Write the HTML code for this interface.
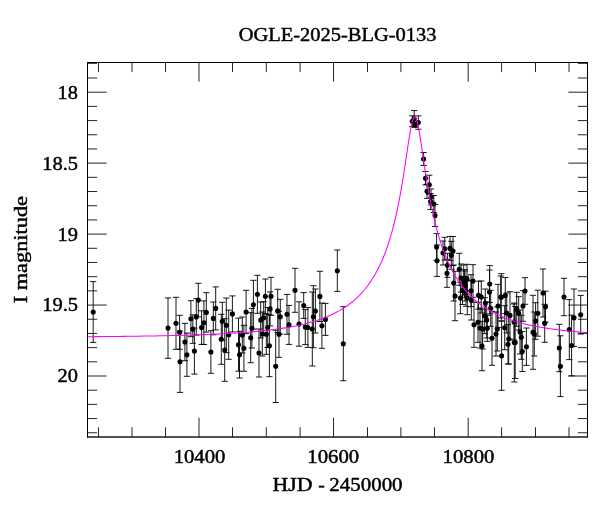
<!DOCTYPE html>
<html><head><meta charset="utf-8"><title>OGLE-2025-BLG-0133</title>
<style>
html,body{margin:0;padding:0;background:#fff;}
body{width:600px;height:512px;overflow:hidden;}
svg{display:block;}
text{font-family:"Liberation Serif",serif;font-size:19.5px;fill:#000;stroke:#000;stroke-width:0.45px;}
.fr{stroke:#000;stroke-width:1;fill:none;}
.tk{stroke:#000;stroke-width:.95;stroke-opacity:.9;fill:none;}
.eb{stroke:#000;stroke-width:1;stroke-opacity:.9;fill:none;}
.pt{fill:#000;}
.cv{stroke:#f0f;stroke-width:1.05;fill:none;stroke-linejoin:round;}
</style></head><body>
<svg width="600" height="512" viewBox="0 0 600 512">
<rect width="600" height="512" fill="#fff"/>

<path class="tk" d="M98.50 436.90v-9.6M98.50 62.50v9.6M132.00 436.90v-9.6M132.00 62.50v9.6M165.50 436.90v-9.6M165.50 62.50v9.6M199.00 436.90v-19.2M199.00 62.50v19.2M232.50 436.90v-9.6M232.50 62.50v9.6M266.30 436.90v-9.6M266.30 62.50v9.6M300.10 436.90v-9.6M300.10 62.50v9.6M333.50 436.90v-19.2M333.50 62.50v19.2M367.50 436.90v-9.6M367.50 62.50v9.6M400.90 436.90v-9.6M400.90 62.50v9.6M434.50 436.90v-9.6M434.50 62.50v9.6M468.20 436.90v-19.2M468.20 62.50v19.2M501.60 436.90v-9.6M501.60 62.50v9.6M535.50 436.90v-9.6M535.50 62.50v9.6M569.00 436.90v-9.6M569.00 62.50v9.6M87.50 63.35h9.6M587.50 63.35h-9.6M87.50 78.01h9.6M587.50 78.01h-9.6M87.50 92.20h19.2M587.50 92.20h-19.2M87.50 106.39h9.6M587.50 106.39h-9.6M87.50 120.58h9.6M587.50 120.58h-9.6M87.50 134.77h9.6M587.50 134.77h-9.6M87.50 148.96h9.6M587.50 148.96h-9.6M87.50 163.15h19.2M587.50 163.15h-19.2M87.50 177.34h9.6M587.50 177.34h-9.6M87.50 191.53h9.6M587.50 191.53h-9.6M87.50 205.72h9.6M587.50 205.72h-9.6M87.50 219.91h9.6M587.50 219.91h-9.6M87.50 234.10h19.2M587.50 234.10h-19.2M87.50 248.29h9.6M587.50 248.29h-9.6M87.50 262.48h9.6M587.50 262.48h-9.6M87.50 276.67h9.6M587.50 276.67h-9.6M87.50 290.86h9.6M587.50 290.86h-9.6M87.50 305.05h19.2M587.50 305.05h-19.2M87.50 319.24h9.6M587.50 319.24h-9.6M87.50 333.43h9.6M587.50 333.43h-9.6M87.50 347.62h9.6M587.50 347.62h-9.6M87.50 361.81h9.6M587.50 361.81h-9.6M87.50 376.00h19.2M587.50 376.00h-19.2M87.50 390.19h9.6M587.50 390.19h-9.6M87.50 404.38h9.6M587.50 404.38h-9.6M87.50 418.57h9.6M587.50 418.57h-9.6M87.50 432.76h9.6M587.50 432.76h-9.6"/>
<path class="eb" d="M93.2 281.6V342.4M90.1 281.6h6.2M90.1 342.4h6.2M168.0 297.9V358.3M164.9 297.9h6.2M164.9 358.3h6.2M176.0 297.3V349.3M172.9 297.3h6.2M172.9 349.3h6.2M179.6 315.3V349.3M176.5 315.3h6.2M176.5 349.3h6.2M180.0 331.0V392.4M176.9 331.0h6.2M176.9 392.4h6.2M184.9 323.3V360.7M181.8 323.3h6.2M181.8 360.7h6.2M186.9 333.1V376.3M183.8 333.1h6.2M183.8 376.3h6.2M190.9 300.7V336.7M187.8 300.7h6.2M187.8 336.7h6.2M192.8 314.9V343.3M189.7 314.9h6.2M189.7 343.3h6.2M194.4 328.1V374.1M191.3 328.1h6.2M191.3 374.1h6.2M196.3 298.7V335.1M193.2 298.7h6.2M193.2 335.1h6.2M198.3 283.3V316.9M195.2 283.3h6.2M195.2 316.9h6.2M201.6 310.8V344.4M198.5 310.8h6.2M198.5 344.4h6.2M203.9 300.9V344.5M200.8 300.9h6.2M200.8 344.5h6.2M206.3 292.7V332.1M203.2 292.7h6.2M203.2 332.1h6.2M210.9 330.7V373.3M207.8 330.7h6.2M207.8 373.3h6.2M213.3 302.0V334.8M210.2 302.0h6.2M210.2 334.8h6.2M215.7 286.9V329.9M212.6 286.9h6.2M212.6 329.9h6.2M221.3 314.3V364.3M218.2 314.3h6.2M218.2 364.3h6.2M222.3 302.3V340.3M219.2 302.3h6.2M219.2 340.3h6.2M224.7 318.7V381.3M221.6 318.7h6.2M221.6 381.3h6.2M226.3 298.0V352.6M223.2 298.0h6.2M223.2 352.6h6.2M228.7 310.1V359.3M225.6 310.1h6.2M225.6 359.3h6.2M232.4 295.9V331.9M229.3 295.9h6.2M229.3 331.9h6.2M238.5 318.2V371.2M235.4 318.2h6.2M235.4 371.2h6.2M239.5 331.4V378.0M236.4 331.4h6.2M236.4 378.0h6.2M242.3 317.0V353.0M239.2 317.0h6.2M239.2 353.0h6.2M243.9 325.3V371.3M240.8 325.3h6.2M240.8 371.3h6.2M246.1 290.3V333.7M243.0 290.3h6.2M243.0 333.7h6.2M250.7 312.7V362.7M247.6 312.7h6.2M247.6 362.7h6.2M251.9 308.4V348.0M248.8 308.4h6.2M248.8 348.0h6.2M253.4 280.3V329.1M250.3 280.3h6.2M250.3 329.1h6.2M257.4 275.3V313.3M254.3 275.3h6.2M254.3 313.3h6.2M259.0 329.0V377.0M255.9 329.0h6.2M255.9 377.0h6.2M260.7 302.0V338.0M257.6 302.0h6.2M257.6 338.0h6.2M262.3 312.0V356.0M259.2 312.0h6.2M259.2 356.0h6.2M263.7 301.7V333.7M260.6 301.7h6.2M260.6 333.7h6.2M265.4 279.0V313.6M262.3 279.0h6.2M262.3 313.6h6.2M266.3 314.3V354.3M263.2 314.3h6.2M263.2 354.3h6.2M267.7 307.5V347.5M264.6 307.5h6.2M264.6 347.5h6.2M269.4 314.7V376.7M266.3 314.7h6.2M266.3 376.7h6.2M270.1 291.9V325.9M267.0 291.9h6.2M267.0 325.9h6.2M271.0 277.3V315.3M267.9 277.3h6.2M267.9 315.3h6.2M275.7 330.1V402.5M272.6 330.1h6.2M272.6 402.5h6.2M277.7 289.3V332.5M274.6 289.3h6.2M274.6 332.5h6.2M279.0 311.3V357.3M275.9 311.3h6.2M275.9 357.3h6.2M280.3 299.3V334.1M277.2 299.3h6.2M277.2 334.1h6.2M287.0 294.4V334.2M283.9 294.4h6.2M283.9 334.2h6.2M289.0 305.4V344.4M285.9 305.4h6.2M285.9 344.4h6.2M295.0 268.3V312.3M291.9 268.3h6.2M291.9 312.3h6.2M299.0 301.8V346.2M295.9 301.8h6.2M295.9 346.2h6.2M303.7 292.6V318.4M300.6 292.6h6.2M300.6 318.4h6.2M305.3 309.6V344.6M302.2 309.6h6.2M302.2 344.6h6.2M307.9 307.6V347.4M304.8 307.6h6.2M304.8 347.4h6.2M312.3 292.0V366.0M309.2 292.0h6.2M309.2 366.0h6.2M313.4 285.7V347.7M310.3 285.7h6.2M310.3 347.7h6.2M315.4 289.0V333.0M312.3 289.0h6.2M312.3 333.0h6.2M319.9 271.3V321.5M316.8 271.3h6.2M316.8 321.5h6.2M321.9 303.1V348.3M318.8 303.1h6.2M318.8 348.3h6.2M325.4 303.4V335.4M322.3 303.4h6.2M322.3 335.4h6.2M337.3 250.0V291.4M334.2 250.0h6.2M334.2 291.4h6.2M343.3 306.7V380.7M340.2 306.7h6.2M340.2 380.7h6.2M412.3 115.8V126.6M409.2 115.8h6.2M409.2 126.6h6.2M414.2 110.6V126.8M411.1 110.6h6.2M411.1 126.8h6.2M415.0 122.3V127.3M411.9 122.3h6.2M411.9 127.3h6.2M418.3 115.9V129.3M415.2 115.9h6.2M415.2 129.3h6.2M423.6 152.5V165.5M420.5 152.5h6.2M420.5 165.5h6.2M425.5 171.5V184.9M422.4 171.5h6.2M422.4 184.9h6.2M429.3 175.2V194.4M426.2 175.2h6.2M426.2 194.4h6.2M427.0 184.3V198.3M423.9 184.3h6.2M423.9 198.3h6.2M431.0 189.0V205.0M427.9 189.0h6.2M427.9 205.0h6.2M433.8 195.5V212.5M430.7 195.5h6.2M430.7 212.5h6.2M435.0 204.5V226.5M431.9 204.5h6.2M431.9 226.5h6.2M436.6 233.6V260.6M433.5 233.6h6.2M433.5 260.6h6.2M437.0 245.0V276.4M433.9 245.0h6.2M433.9 276.4h6.2M443.0 241.0V265.0M439.9 241.0h6.2M439.9 265.0h6.2M444.7 237.3V260.1M441.6 237.3h6.2M441.6 260.1h6.2M450.0 236.4V260.4M446.9 236.4h6.2M446.9 260.4h6.2M453.0 236.5V265.5M449.9 236.5h6.2M449.9 265.5h6.2M451.3 241.3V269.3M448.2 241.3h6.2M448.2 269.3h6.2M447.4 253.3V277.3M444.3 253.3h6.2M444.3 277.3h6.2M447.0 259.3V287.3M443.9 259.3h6.2M443.9 287.3h6.2M453.7 265.0V301.0M450.6 265.0h6.2M450.6 301.0h6.2M459.3 253.3V285.3M456.2 253.3h6.2M456.2 285.3h6.2M455.0 271.3V320.7M451.9 271.3h6.2M451.9 320.7h6.2M460.4 282.3V313.7M457.3 282.3h6.2M457.3 313.7h6.2M461.0 264.0V292.0M457.9 264.0h6.2M457.9 292.0h6.2M463.7 265.0V295.0M460.6 265.0h6.2M460.6 295.0h6.2M467.0 264.3V294.3M463.9 264.3h6.2M463.9 294.3h6.2M465.0 271.0V301.0M461.9 271.0h6.2M461.9 301.0h6.2M473.0 264.7V297.3M469.9 264.7h6.2M469.9 297.3h6.2M471.0 274.7V306.7M467.9 274.7h6.2M467.9 306.7h6.2M467.3 280.7V314.7M464.2 280.7h6.2M464.2 314.7h6.2M471.3 280.6V320.0M468.2 280.6h6.2M468.2 320.0h6.2M478.5 281.2V309.2M475.4 281.2h6.2M475.4 309.2h6.2M481.3 281.0V313.0M478.2 281.0h6.2M478.2 313.0h6.2M485.3 289.0V317.0M482.2 289.0h6.2M482.2 317.0h6.2M489.7 265.6V302.4M486.6 265.6h6.2M486.6 302.4h6.2M489.5 270.0V314.0M486.4 270.0h6.2M486.4 314.0h6.2M490.7 290.3V326.3M487.6 290.3h6.2M487.6 326.3h6.2M498.0 284.4V327.6M494.9 284.4h6.2M494.9 327.6h6.2M500.7 276.0V318.0M497.6 276.0h6.2M497.6 318.0h6.2M501.3 273.7V320.9M498.2 273.7h6.2M498.2 320.9h6.2M505.3 277.5V313.5M502.2 277.5h6.2M502.2 313.5h6.2M484.7 297.7V333.7M481.6 297.7h6.2M481.6 333.7h6.2M486.7 302.0V338.0M483.6 302.0h6.2M483.6 338.0h6.2M478.0 302.3V342.3M474.9 302.3h6.2M474.9 342.3h6.2M474.0 302.1V347.3M470.9 302.1h6.2M470.9 347.3h6.2M480.0 308.0V348.0M476.9 308.0h6.2M476.9 348.0h6.2M482.7 309.0V349.0M479.6 309.0h6.2M479.6 349.0h6.2M487.3 315.3V341.3M484.2 315.3h6.2M484.2 341.3h6.2M497.3 307.0V351.0M494.2 307.0h6.2M494.2 351.0h6.2M496.0 312.0V356.0M492.9 312.0h6.2M492.9 356.0h6.2M492.0 311.3V365.3M488.9 311.3h6.2M488.9 365.3h6.2M482.0 321.3V370.7M478.9 321.3h6.2M478.9 370.7h6.2M504.7 305.7V349.7M501.6 305.7h6.2M501.6 349.7h6.2M506.7 293.0V333.0M503.6 293.0h6.2M503.6 333.0h6.2M510.0 291.7V339.1M506.9 291.7h6.2M506.9 339.1h6.2M508.7 314.0V364.0M505.6 314.0h6.2M505.6 364.0h6.2M508.0 324.6V364.0M504.9 324.6h6.2M504.9 364.0h6.2M501.6 321.1V390.3M498.5 321.1h6.2M498.5 390.3h6.2M515.2 306.5V378.5M512.1 306.5h6.2M512.1 378.5h6.2M514.3 303.0V382.0M511.2 303.0h6.2M511.2 382.0h6.2M516.7 292.3V326.3M513.6 292.3h6.2M513.6 326.3h6.2M518.7 296.7V329.9M515.6 296.7h6.2M515.6 329.9h6.2M514.0 304.0V340.0M510.9 304.0h6.2M510.9 340.0h6.2M520.0 310.0V354.0M516.9 310.0h6.2M516.9 354.0h6.2M521.3 315.3V359.3M518.2 315.3h6.2M518.2 359.3h6.2M522.3 331.5V371.5M519.2 331.5h6.2M519.2 371.5h6.2M523.0 290.7V321.3M519.9 290.7h6.2M519.9 321.3h6.2M525.0 277.7V304.3M521.9 277.7h6.2M521.9 304.3h6.2M526.4 328.0V365.4M523.3 328.0h6.2M523.3 365.4h6.2M533.0 295.3V369.3M529.9 295.3h6.2M529.9 369.3h6.2M535.6 302.7V339.3M532.5 302.7h6.2M532.5 339.3h6.2M537.8 290.2V336.2M534.7 290.2h6.2M534.7 336.2h6.2M543.0 269.0V317.0M539.9 269.0h6.2M539.9 317.0h6.2M545.5 291.2V322.2M542.4 291.2h6.2M542.4 322.2h6.2M544.7 304.3V342.3M541.6 304.3h6.2M541.6 342.3h6.2M559.3 324.3V371.7M556.2 324.3h6.2M556.2 371.7h6.2M560.4 335.8V396.6M557.3 335.8h6.2M557.3 396.6h6.2M564.0 278.3V315.7M560.9 278.3h6.2M560.9 315.7h6.2M569.3 299.6V359.6M566.2 299.6h6.2M566.2 359.6h6.2M571.6 315.2V375.8M568.5 315.2h6.2M568.5 375.8h6.2M574.0 289.0V346.4M570.9 289.0h6.2M570.9 346.4h6.2M580.7 295.4V334.0M577.6 295.4h6.2M577.6 334.0h6.2M430.6 193.5V209.5M427.5 193.5h6.2M427.5 209.5h6.2M534.3 312.0V356.0M531.2 312.0h6.2M531.2 356.0h6.2M462.5 276.5V304.5M459.4 276.5h6.2M459.4 304.5h6.2M466.0 276.3V306.3M462.9 276.3h6.2M462.9 306.3h6.2M464.3 269.6V297.6M461.2 269.6h6.2M461.2 297.6h6.2"/>
<g class="pt">
<circle cx="93.2" cy="312.0" r="2.55"/>
<circle cx="168.0" cy="328.1" r="2.55"/>
<circle cx="176.0" cy="323.3" r="2.55"/>
<circle cx="179.6" cy="332.3" r="2.55"/>
<circle cx="180.0" cy="361.7" r="2.55"/>
<circle cx="184.9" cy="342.0" r="2.55"/>
<circle cx="186.9" cy="354.7" r="2.55"/>
<circle cx="190.9" cy="318.7" r="2.55"/>
<circle cx="192.8" cy="329.1" r="2.55"/>
<circle cx="194.4" cy="351.1" r="2.55"/>
<circle cx="196.3" cy="316.9" r="2.55"/>
<circle cx="198.3" cy="300.1" r="2.55"/>
<circle cx="201.6" cy="327.6" r="2.55"/>
<circle cx="203.9" cy="322.7" r="2.55"/>
<circle cx="206.3" cy="312.4" r="2.55"/>
<circle cx="210.9" cy="352.0" r="2.55"/>
<circle cx="213.3" cy="318.4" r="2.55"/>
<circle cx="215.7" cy="308.4" r="2.55"/>
<circle cx="221.3" cy="339.3" r="2.55"/>
<circle cx="222.3" cy="321.3" r="2.55"/>
<circle cx="224.7" cy="350.0" r="2.55"/>
<circle cx="226.3" cy="325.3" r="2.55"/>
<circle cx="228.7" cy="334.7" r="2.55"/>
<circle cx="232.4" cy="313.9" r="2.55"/>
<circle cx="238.5" cy="344.7" r="2.55"/>
<circle cx="239.5" cy="354.7" r="2.55"/>
<circle cx="242.3" cy="335.0" r="2.55"/>
<circle cx="243.9" cy="348.3" r="2.55"/>
<circle cx="246.1" cy="312.0" r="2.55"/>
<circle cx="250.7" cy="337.7" r="2.55"/>
<circle cx="251.9" cy="328.2" r="2.55"/>
<circle cx="253.4" cy="304.7" r="2.55"/>
<circle cx="257.4" cy="294.3" r="2.55"/>
<circle cx="259.0" cy="353.0" r="2.55"/>
<circle cx="260.7" cy="320.0" r="2.55"/>
<circle cx="262.3" cy="334.0" r="2.55"/>
<circle cx="263.7" cy="317.7" r="2.55"/>
<circle cx="265.4" cy="296.3" r="2.55"/>
<circle cx="266.3" cy="334.3" r="2.55"/>
<circle cx="267.7" cy="327.5" r="2.55"/>
<circle cx="269.4" cy="345.7" r="2.55"/>
<circle cx="270.1" cy="308.9" r="2.55"/>
<circle cx="271.0" cy="296.3" r="2.55"/>
<circle cx="275.7" cy="366.3" r="2.55"/>
<circle cx="277.7" cy="310.9" r="2.55"/>
<circle cx="279.0" cy="334.3" r="2.55"/>
<circle cx="280.3" cy="316.7" r="2.55"/>
<circle cx="287.0" cy="314.3" r="2.55"/>
<circle cx="289.0" cy="324.9" r="2.55"/>
<circle cx="295.0" cy="290.3" r="2.55"/>
<circle cx="299.0" cy="324.0" r="2.55"/>
<circle cx="303.7" cy="305.5" r="2.55"/>
<circle cx="305.3" cy="327.1" r="2.55"/>
<circle cx="307.9" cy="327.5" r="2.55"/>
<circle cx="312.3" cy="329.0" r="2.55"/>
<circle cx="313.4" cy="316.7" r="2.55"/>
<circle cx="315.4" cy="311.0" r="2.55"/>
<circle cx="319.9" cy="296.4" r="2.55"/>
<circle cx="321.9" cy="325.7" r="2.55"/>
<circle cx="325.4" cy="319.4" r="2.55"/>
<circle cx="337.3" cy="270.7" r="2.55"/>
<circle cx="343.3" cy="343.7" r="2.55"/>
<circle cx="412.3" cy="121.2" r="2.55"/>
<circle cx="414.2" cy="118.7" r="2.55"/>
<circle cx="415.0" cy="124.8" r="2.55"/>
<circle cx="418.3" cy="122.6" r="2.55"/>
<circle cx="423.6" cy="159.0" r="2.55"/>
<circle cx="425.5" cy="178.2" r="2.55"/>
<circle cx="429.3" cy="184.8" r="2.55"/>
<circle cx="427.0" cy="191.3" r="2.55"/>
<circle cx="431.0" cy="197.0" r="2.55"/>
<circle cx="433.8" cy="204.0" r="2.55"/>
<circle cx="435.0" cy="215.5" r="2.55"/>
<circle cx="436.6" cy="247.1" r="2.55"/>
<circle cx="437.0" cy="260.7" r="2.55"/>
<circle cx="443.0" cy="253.0" r="2.55"/>
<circle cx="444.7" cy="248.7" r="2.55"/>
<circle cx="450.0" cy="248.4" r="2.55"/>
<circle cx="453.0" cy="251.0" r="2.55"/>
<circle cx="451.3" cy="255.3" r="2.55"/>
<circle cx="447.4" cy="265.3" r="2.55"/>
<circle cx="447.0" cy="273.3" r="2.55"/>
<circle cx="453.7" cy="283.0" r="2.55"/>
<circle cx="459.3" cy="269.3" r="2.55"/>
<circle cx="455.0" cy="296.0" r="2.55"/>
<circle cx="460.4" cy="298.0" r="2.55"/>
<circle cx="461.0" cy="278.0" r="2.55"/>
<circle cx="463.7" cy="280.0" r="2.55"/>
<circle cx="467.0" cy="279.3" r="2.55"/>
<circle cx="465.0" cy="286.0" r="2.55"/>
<circle cx="473.0" cy="281.0" r="2.55"/>
<circle cx="471.0" cy="290.7" r="2.55"/>
<circle cx="467.3" cy="297.7" r="2.55"/>
<circle cx="471.3" cy="300.3" r="2.55"/>
<circle cx="478.5" cy="295.2" r="2.55"/>
<circle cx="481.3" cy="297.0" r="2.55"/>
<circle cx="485.3" cy="303.0" r="2.55"/>
<circle cx="489.7" cy="284.0" r="2.55"/>
<circle cx="489.5" cy="292.0" r="2.55"/>
<circle cx="490.7" cy="308.3" r="2.55"/>
<circle cx="498.0" cy="306.0" r="2.55"/>
<circle cx="500.7" cy="297.0" r="2.55"/>
<circle cx="501.3" cy="297.3" r="2.55"/>
<circle cx="505.3" cy="295.5" r="2.55"/>
<circle cx="484.7" cy="315.7" r="2.55"/>
<circle cx="486.7" cy="320.0" r="2.55"/>
<circle cx="478.0" cy="322.3" r="2.55"/>
<circle cx="474.0" cy="324.7" r="2.55"/>
<circle cx="480.0" cy="328.0" r="2.55"/>
<circle cx="482.7" cy="329.0" r="2.55"/>
<circle cx="487.3" cy="328.3" r="2.55"/>
<circle cx="497.3" cy="329.0" r="2.55"/>
<circle cx="496.0" cy="334.0" r="2.55"/>
<circle cx="492.0" cy="338.3" r="2.55"/>
<circle cx="482.0" cy="346.0" r="2.55"/>
<circle cx="504.7" cy="327.7" r="2.55"/>
<circle cx="506.7" cy="313.0" r="2.55"/>
<circle cx="510.0" cy="315.4" r="2.55"/>
<circle cx="508.7" cy="339.0" r="2.55"/>
<circle cx="508.0" cy="344.3" r="2.55"/>
<circle cx="501.6" cy="355.7" r="2.55"/>
<circle cx="515.2" cy="342.5" r="2.55"/>
<circle cx="514.3" cy="342.5" r="2.55"/>
<circle cx="516.7" cy="309.3" r="2.55"/>
<circle cx="518.7" cy="313.3" r="2.55"/>
<circle cx="514.0" cy="322.0" r="2.55"/>
<circle cx="520.0" cy="332.0" r="2.55"/>
<circle cx="521.3" cy="337.3" r="2.55"/>
<circle cx="522.3" cy="351.5" r="2.55"/>
<circle cx="523.0" cy="306.0" r="2.55"/>
<circle cx="525.0" cy="291.0" r="2.55"/>
<circle cx="526.4" cy="346.7" r="2.55"/>
<circle cx="533.0" cy="332.3" r="2.55"/>
<circle cx="535.6" cy="321.0" r="2.55"/>
<circle cx="537.8" cy="313.2" r="2.55"/>
<circle cx="543.0" cy="293.0" r="2.55"/>
<circle cx="545.5" cy="306.7" r="2.55"/>
<circle cx="544.7" cy="323.3" r="2.55"/>
<circle cx="559.3" cy="348.0" r="2.55"/>
<circle cx="560.4" cy="366.2" r="2.55"/>
<circle cx="564.0" cy="297.0" r="2.55"/>
<circle cx="569.3" cy="329.6" r="2.55"/>
<circle cx="571.6" cy="345.5" r="2.55"/>
<circle cx="574.0" cy="317.7" r="2.55"/>
<circle cx="580.7" cy="314.7" r="2.55"/>
<circle cx="430.6" cy="201.5" r="2.55"/>
<circle cx="534.3" cy="334.0" r="2.55"/>
<circle cx="462.5" cy="290.5" r="2.55"/>
<circle cx="466.0" cy="291.3" r="2.55"/>
<circle cx="464.3" cy="283.6" r="2.55"/>
</g>
<path class="cv" d="M87.50 336.69L91.50 336.66L95.50 336.63L99.50 336.60L103.50 336.56L107.50 336.53L111.50 336.49L115.50 336.45L119.50 336.41L123.50 336.36L127.50 336.31L131.50 336.26L135.50 336.21L139.50 336.16L143.50 336.10L147.50 336.03L151.50 335.97L155.50 335.90L159.50 335.82L163.50 335.75L167.50 335.66L171.50 335.58L175.50 335.48L179.50 335.38L183.50 335.28L187.50 335.16L191.50 335.04L195.50 334.92L199.50 334.78L203.50 334.64L207.50 334.48L211.50 334.32L215.50 334.14L219.50 333.95L223.50 333.75L227.50 333.54L231.50 333.31L235.50 333.06L239.50 332.80L243.50 332.51L247.50 332.21L251.50 331.88L255.50 331.52L259.50 331.14L263.50 330.73L267.50 330.29L271.50 329.81L275.50 329.29L279.50 328.73L283.50 328.13L287.50 327.47L291.50 326.76L295.50 325.98L299.50 325.14L303.50 324.22L307.50 323.21L311.50 322.11L315.50 320.91L319.50 319.59L323.50 318.14L327.50 316.54L331.50 314.77L335.50 312.82L339.50 310.66L343.50 308.25L347.50 305.56L351.50 302.54L355.50 299.16L359.50 295.33L363.50 290.99L367.50 286.03L371.50 280.34L375.50 273.75L379.50 266.08L380.00 265.03L380.50 263.96L381.00 262.87L381.50 261.75L382.00 260.61L382.50 259.45L383.00 258.26L383.50 257.05L384.00 255.81L384.50 254.54L385.00 253.24L385.50 251.92L386.00 250.56L386.50 249.18L387.00 247.76L387.50 246.31L388.00 244.83L388.50 243.31L389.00 241.76L389.50 240.17L390.00 238.54L390.50 236.87L391.00 235.17L391.50 233.42L392.00 231.62L392.50 229.79L393.00 227.91L393.50 225.98L394.00 224.00L394.50 221.97L395.00 219.89L395.50 217.76L396.00 215.57L396.50 213.33L397.00 211.03L397.50 208.67L398.00 206.25L398.50 203.77L399.00 201.22L399.50 198.61L400.00 195.94L400.50 193.20L401.00 190.40L401.50 187.53L402.00 184.59L402.50 181.59L403.00 178.53L403.50 175.41L404.00 172.23L404.50 168.99L405.00 165.71L405.50 162.38L406.00 159.03L406.50 155.65L407.00 152.26L407.50 148.88L408.00 145.52L408.50 142.21L409.00 138.97L409.50 135.82L410.00 132.80L410.50 129.94L411.00 127.27L411.50 124.84L412.00 122.67L412.50 120.81L413.00 119.28L413.50 118.11L414.00 117.34L414.50 116.97L415.00 117.01L415.50 117.46L416.00 118.32L416.50 119.56L417.00 121.15L417.50 123.08L418.00 125.31L418.50 127.79L419.00 130.50L419.50 133.39L420.00 136.44L420.50 139.61L421.00 142.87L421.50 146.19L422.00 149.55L422.50 152.94L423.00 156.32L423.50 159.70L424.00 163.05L424.50 166.37L425.00 169.64L425.50 172.87L426.00 176.04L426.50 179.15L427.00 182.20L427.50 185.19L428.00 188.11L428.50 190.97L429.00 193.76L429.50 196.48L430.00 199.14L430.50 201.74L431.00 204.27L431.50 206.74L432.00 209.14L432.50 211.49L433.00 213.78L433.50 216.01L434.00 218.19L434.50 220.31L435.00 222.38L435.50 224.40L436.00 226.37L436.50 228.29L437.00 230.16L437.50 231.99L438.00 233.77L438.50 235.51L439.00 237.21L439.50 238.87L440.00 240.49L440.50 242.07L441.00 243.62L441.50 245.13L442.00 246.61L442.50 248.05L443.00 249.46L443.50 250.84L444.00 252.19L444.50 253.50L445.00 254.79L445.50 256.06L446.00 257.29L446.50 258.50L447.00 259.68L447.50 260.84L448.00 261.98L448.50 263.09L449.00 264.17L449.50 265.24L450.00 266.28L454.00 273.93L458.00 280.49L462.00 286.16L466.00 291.10L470.00 295.43L474.00 299.25L478.00 302.62L482.00 305.63L486.00 308.31L490.00 310.71L494.00 312.87L498.00 314.82L502.00 316.58L506.00 318.18L510.00 319.62L514.00 320.94L518.00 322.14L522.00 323.24L526.00 324.24L530.00 325.16L534.00 326.00L538.00 326.78L542.00 327.49L546.00 328.14L550.00 328.75L554.00 329.31L558.00 329.82L562.00 330.30L566.00 330.74L570.00 331.15L574.00 331.53L578.00 331.89L582.00 332.21L586.00 332.52L587.50 332.63"/>
<path class="fr" d="M87.5 437.5V62.0M87.0 62.5H588.0M587.5 62.0V437.5"/>
<path d="M87.0 436.9H588.0" stroke="#000" stroke-width="1.5" stroke-opacity=".9" fill="none"/>
<text x="337.6" y="40.6" text-anchor="middle" textLength="197.8" lengthAdjust="spacingAndGlyphs">OGLE-2025-BLG-0133</text>
<text x="78.0" y="98.6" text-anchor="end" textLength="20.4" lengthAdjust="spacingAndGlyphs">18</text>
<text x="78.0" y="169.6" text-anchor="end" textLength="35.8" lengthAdjust="spacingAndGlyphs">18.5</text>
<text x="78.0" y="240.5" text-anchor="end" textLength="20.4" lengthAdjust="spacingAndGlyphs">19</text>
<text x="78.0" y="311.4" text-anchor="end" textLength="35.8" lengthAdjust="spacingAndGlyphs">19.5</text>
<text x="78.0" y="382.4" text-anchor="end" textLength="20.4" lengthAdjust="spacingAndGlyphs">20</text>
<text x="199.55" y="462.5" text-anchor="middle" textLength="51.8" lengthAdjust="spacingAndGlyphs">10400</text>
<text x="333.25" y="462.5" text-anchor="middle" textLength="51.8" lengthAdjust="spacingAndGlyphs">10600</text>
<text x="468.45" y="462.5" text-anchor="middle" textLength="51.8" lengthAdjust="spacingAndGlyphs">10800</text>
<text y="491.4" text-anchor="start"><tspan x="272.45" textLength="40" lengthAdjust="spacingAndGlyphs">HJD</tspan> <tspan x="318.2">-</tspan> <tspan x="329.35" textLength="73.2" lengthAdjust="spacingAndGlyphs">2450000</tspan></text>
<text transform="translate(27.2 249.7) rotate(-90)" text-anchor="middle" textLength="107.3" lengthAdjust="spacingAndGlyphs">I magnitude</text>
</svg></body></html>
